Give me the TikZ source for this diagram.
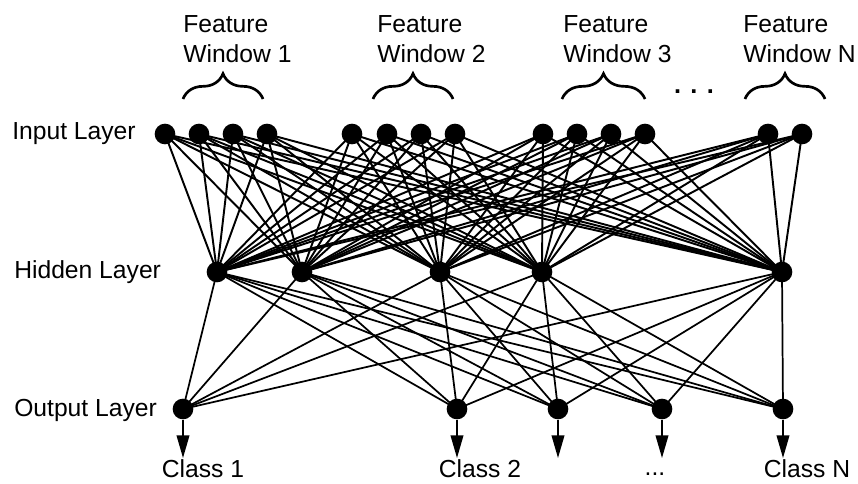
\documentclass[tikz,border=0pt]{standalone}
\usepackage{fontspec}
\setmainfont{Liberation Sans}
\usetikzlibrary{arrows.meta,decorations.pathreplacing}

\begin{document}
\begin{tikzpicture}[x=0.75pt,y=0.75pt,yscale=-1,xscale=1,
	unit/.style={circle,fill=black,inner sep=0pt,minimum size=15.5pt},
	lbl/.style={inner sep=0pt,font=\fontsize{18.5}{22.5}\selectfont},
	conn/.style={line width=1.45pt},
	outconn/.style={line width=1.3pt},
	winbrace/.style={decorate,decoration={brace,amplitude=19pt},line width=2pt},
	outarrow/.style={line width=1.3pt,-{Triangle[length=17pt,width=9.5pt]}}]
	\useasboundingbox (0,0) rectangle (858,483);

	% Input Layer
	\node [unit] (i1) at (165,134) {};
	\node [unit] (i2) at (199,134) {};
	\node [unit] (i3) at (233,134) {};
	\node [unit] (i4) at (267,134) {};
	\node [unit] (i5) at (352,134) {};
	\node [unit] (i6) at (387,134) {};
	\node [unit] (i7) at (421,134) {};
	\node [unit] (i8) at (455,134) {};
	\node [unit] (i9) at (543,134) {};
	\node [unit] (i10) at (577,134) {};
	\node [unit] (i11) at (611,134) {};
	\node [unit] (i12) at (645,134) {};
	\node [unit] (i13) at (768,134) {};
	\node [unit] (i14) at (802,134) {};
	% Hidden Layer
	\node [unit] (h1) at (217,272) {};
	\node [unit] (h2) at (302,272) {};
	\node [unit] (h3) at (440,272) {};
	\node [unit] (h4) at (542,272) {};
	\node [unit] (h5) at (782,272) {};
	% Output Layer
	\node [unit] (o1) at (183,409) {};
	\node [unit] (o2) at (457,409) {};
	\node [unit] (o3) at (558,409) {};
	\node [unit] (o4) at (662,409) {};
	\node [unit] (o5) at (783,409) {};

	% Connection
	\foreach \i in {1,...,14}
		\foreach \j in {1,...,5}
			\draw [conn] (i\i.center) -- (h\j.center);
	% Connection
	\foreach \j in {1,...,5}
		\foreach \k in {1,...,5}
			\draw [outconn] (h\j.center) -- (o\k.center);

	% Class arrows
	\coordinate (c1) at (183,458);
	\coordinate (c2) at (457,458);
	\coordinate (c3) at (558,458);
	\coordinate (c4) at (662,458);
	\coordinate (c5) at (783,458);
	\foreach \k in {1,...,5}
		\draw [outarrow] (o\k) -- (c\k);

	% Text Node
	\node [lbl,anchor=west] (inlbl) at (12,134) {Input Layer};
	\node [lbl,anchor=west] (hidlbl) at (14,272) {Hidden Layer};
	\node [lbl,anchor=west] (outlbl) at (14,410) {Output Layer};
	% Text Node
	\node [lbl,anchor=base] (cls1) at (203,477) {Class 1};
	\node [lbl,anchor=base] (cls2) at (480,477) {Class 2};
	\node [lbl,anchor=base] (clsdots) at (655,475) {...};
	\node [lbl,anchor=base] (clsN) at (807,477) {Class N};

	% Feature windows
	\node [lbl,anchor=north west,align=left] (fw1) at (183,15) {Feature\\Window 1};
	\node [lbl,anchor=north west,align=left] (fw2) at (377,15) {Feature\\Window 2};
	\node [lbl,anchor=north west,align=left] (fw3) at (563,15) {Feature\\Window 3};
	\node [lbl,anchor=north west,align=left] (fwN) at (743,15) {Feature\\Window N};
	\node [lbl,font=\fontsize{19}{22.5}\selectfont\bfseries] (fwdots) at (694,92) {. . .};
	% Braces
	\coordinate (b1l) at (183,99); \coordinate (b1r) at (263,99);
	\coordinate (b2l) at (373,99); \coordinate (b2r) at (453,99);
	\coordinate (b3l) at (562,99); \coordinate (b3r) at (645,99);
	\coordinate (bNl) at (745,99); \coordinate (bNr) at (825,99);
	\draw [winbrace] (b1l) -- (b1r);
	\draw [winbrace] (b2l) -- (b2r);
	\draw [winbrace] (b3l) -- (b3r);
	\draw [winbrace] (bNl) -- (bNr);

\end{tikzpicture}
\end{document}
